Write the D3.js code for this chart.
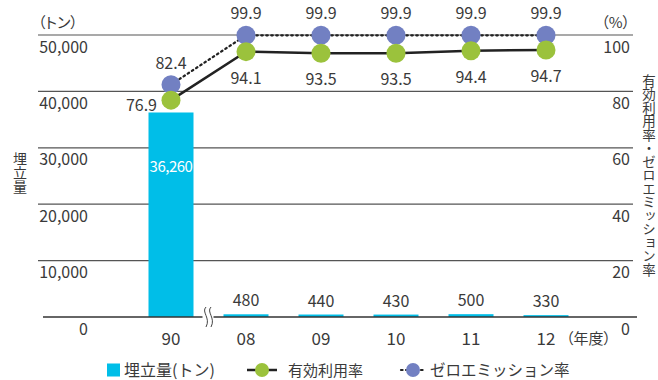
<!DOCTYPE html>
<html><head><meta charset="utf-8">
<script src="https://cdn.jsdelivr.net/npm/d3@7"></script>
<style>
body{margin:0;background:#fff;}
svg{font-family:"Noto Sans CJK JP","Noto Sans",sans-serif;}
text{fill:#3a3a3a;}
</style></head>
<body>
<script>
const categories = ["90","08","09","10","11","12"];
const landfill = [36260,480,440,430,500,330];
const landfillLabels = ["36,260","480","440","430","500","330"];
const effectiveRate = [76.9,94.1,93.5,93.5,94.4,94.7];
const zeroEmission = [82.4,99.9,99.9,99.9,99.9,99.9];
const leftTicks = [0,10000,20000,30000,40000,50000];
const rightTicks = [0,20,40,60,80,100];

const W=658,H=380;
const svg=d3.select("body").append("svg").attr("width",W).attr("height",H);

const x=d3.scaleBand().domain(categories).range([133.5,583.5]).paddingInner(0.4).paddingOuter(0.2);
const y=d3.scaleLinear().domain([0,50000]).range([317,35]);
const yp=d3.scaleLinear().domain([0,100]).range([317,35]);
const cx=d=>x(d)+x.bandwidth()/2;

const cBar="#00bee8", cGreen="#9bc23c", cBlue="#7280c2";

// gridlines
svg.append("g").selectAll("line").data(leftTicks.filter(d=>d>0)).join("line")
  .attr("x1",38).attr("x2",633).attr("y1",d=>y(d)).attr("y2",d=>y(d))
  .attr("stroke","#555").attr("stroke-width",1.2);

// left axis
const gl=svg.append("g").attr("transform","translate(88,0)")
  .call(d3.axisLeft(y).tickValues(leftTicks).tickSize(0).tickPadding(0).tickFormat(d3.format(",")));
gl.select(".domain").remove();
gl.selectAll("text").attr("dy",null).attr("y",17).attr("font-size",16).attr("fill","#3a3a3a")
  .style("font-family","'Noto Sans CJK JP'");

// right axis
const gr=svg.append("g").attr("transform","translate(630,0)")
  .call(d3.axisLeft(yp).tickValues(rightTicks).tickSize(0).tickPadding(0));
gr.select(".domain").remove();
gr.selectAll("text").attr("dy",null).attr("y",17).attr("font-size",16).attr("fill","#3a3a3a")
  .style("font-family","'Noto Sans CJK JP'");

// bars
svg.append("g").selectAll("rect").data(categories).join("rect")
  .attr("x",d=>x(d)).attr("width",x.bandwidth())
  .attr("y",(d,i)=>y(landfill[i])).attr("height",(d,i)=>y(0)-y(landfill[i]))
  .attr("fill",cBar);

// baseline
svg.append("line").attr("x1",43).attr("x2",637).attr("y1",y(0)).attr("y2",y(0))
  .attr("stroke","#333").attr("stroke-width",1.5);

// break symbol
const bx=(cx("90")+cx("08"))/2;
svg.append("rect").attr("x",bx-6).attr("y",y(0)-3).attr("width",11).attr("height",6).attr("fill","#fff");
[-2.5,2.5].forEach(o=>{
  const x0=bx+o, y0=y(0);
  svg.append("path").attr("d",`M${x0},${y0-10} C${x0-5},${y0-5} ${x0+5},${y0+1} ${x0},${y0+10}`)
    .attr("fill","none").attr("stroke","#444").attr("stroke-width",1);
});

// bar labels
svg.append("g").selectAll("text").data(categories).join("text")
  .attr("x",d=>cx(d)).attr("text-anchor","middle")
  .attr("font-size",(d,i)=>i===0?15:16)
  .attr("letter-spacing",(d,i)=>i===0?-0.5:0)
  .attr("y",(d,i)=>i===0?172:y(landfill[i])-8)
  .style("fill",(d,i)=>i===0?"#fff":"#3a3a3a")
  .text((d,i)=>landfillLabels[i]);

// x labels
svg.append("g").selectAll("text").data(categories).join("text")
  .attr("x",d=>cx(d)).attr("y",345).attr("text-anchor","middle").attr("font-size",17)
  .text(d=>d);
svg.append("text").attr("x",566).attr("y",344).attr("font-size",15).text("（年度）")
  .style("font-feature-settings","'palt'");

// lines
const lineG=d3.line().x((d,i)=>cx(categories[i])).y(d=>yp(d));
svg.append("path").attr("d",lineG(zeroEmission)).attr("fill","none")
  .attr("stroke","#222").attr("stroke-width",2.2).attr("stroke-dasharray","1.6,3.4").attr("stroke-linecap","round");
svg.append("path").attr("d",lineG(effectiveRate)).attr("fill","none")
  .attr("stroke","#222").attr("stroke-width",2.5);

// dots
svg.append("g").selectAll("circle").data(zeroEmission).join("circle")
  .attr("cx",(d,i)=>cx(categories[i])).attr("cy",d=>yp(d)).attr("r",9.5).attr("fill",cBlue);
svg.append("g").selectAll("circle").data(effectiveRate).join("circle")
  .attr("cx",(d,i)=>cx(categories[i])).attr("cy",d=>yp(d)).attr("r",9.5).attr("fill",cGreen);

// dot labels
svg.append("g").selectAll("text").data(zeroEmission).join("text")
  .attr("x",(d,i)=>cx(categories[i])).attr("y",d=>yp(d)-16).attr("text-anchor","middle").attr("font-size",16)
  .text(d=>d.toFixed(1));
svg.append("g").selectAll("text").data(effectiveRate).join("text")
  .attr("x",(d,i)=>i===0?cx(categories[i])-14:cx(categories[i]))
  .attr("y",(d,i)=>i===0?yp(d)+11:yp(d)+32)
  .attr("text-anchor",(d,i)=>i===0?"end":"middle").attr("font-size",16)
  .text(d=>d.toFixed(1));

// unit labels
svg.append("text").attr("x",38).attr("y",28).attr("font-size",15).text("（トン）").style("font-feature-settings","'palt'");
svg.append("text").attr("x",630).attr("y",28).attr("font-size",15).attr("text-anchor","end").text("（%）").style("font-feature-settings","'palt'");

// axis titles
svg.append("text").attr("x",20).attr("y",152).attr("font-size",14)
  .style("writing-mode","vertical-rl").text("埋立量");
svg.append("text").attr("x",649).attr("y",74).attr("font-size",13.5)
  .style("writing-mode","vertical-rl").text("有効利用率・ゼロエミッション率");

// legend
const ly=370;
svg.append("rect").attr("x",107).attr("y",ly-6.5).attr("width",13).attr("height",13).attr("fill",cBar);
svg.append("text").attr("x",124).attr("y",ly+6).attr("font-size",16)
  .text("埋立量(トン)");
svg.append("line").attr("x1",247).attr("x2",277).attr("y1",ly).attr("y2",ly).attr("stroke","#222").attr("stroke-width",2.5);
svg.append("circle").attr("cx",262).attr("cy",ly).attr("r",7).attr("fill",cGreen);
svg.append("text").attr("x",288).attr("y",ly+6).attr("font-size",15).text("有効利用率");
svg.append("line").attr("x1",401).attr("x2",425).attr("y1",ly).attr("y2",ly).attr("stroke","#222").attr("stroke-width",2.2)
  .attr("stroke-dasharray","1.6,3.4").attr("stroke-linecap","round");
svg.append("circle").attr("cx",413).attr("cy",ly).attr("r",7).attr("fill",cBlue);
svg.append("text").attr("x",430).attr("y",ly+6).attr("font-size",15.5).text("ゼロエミッション率");
</script>
</body></html>
